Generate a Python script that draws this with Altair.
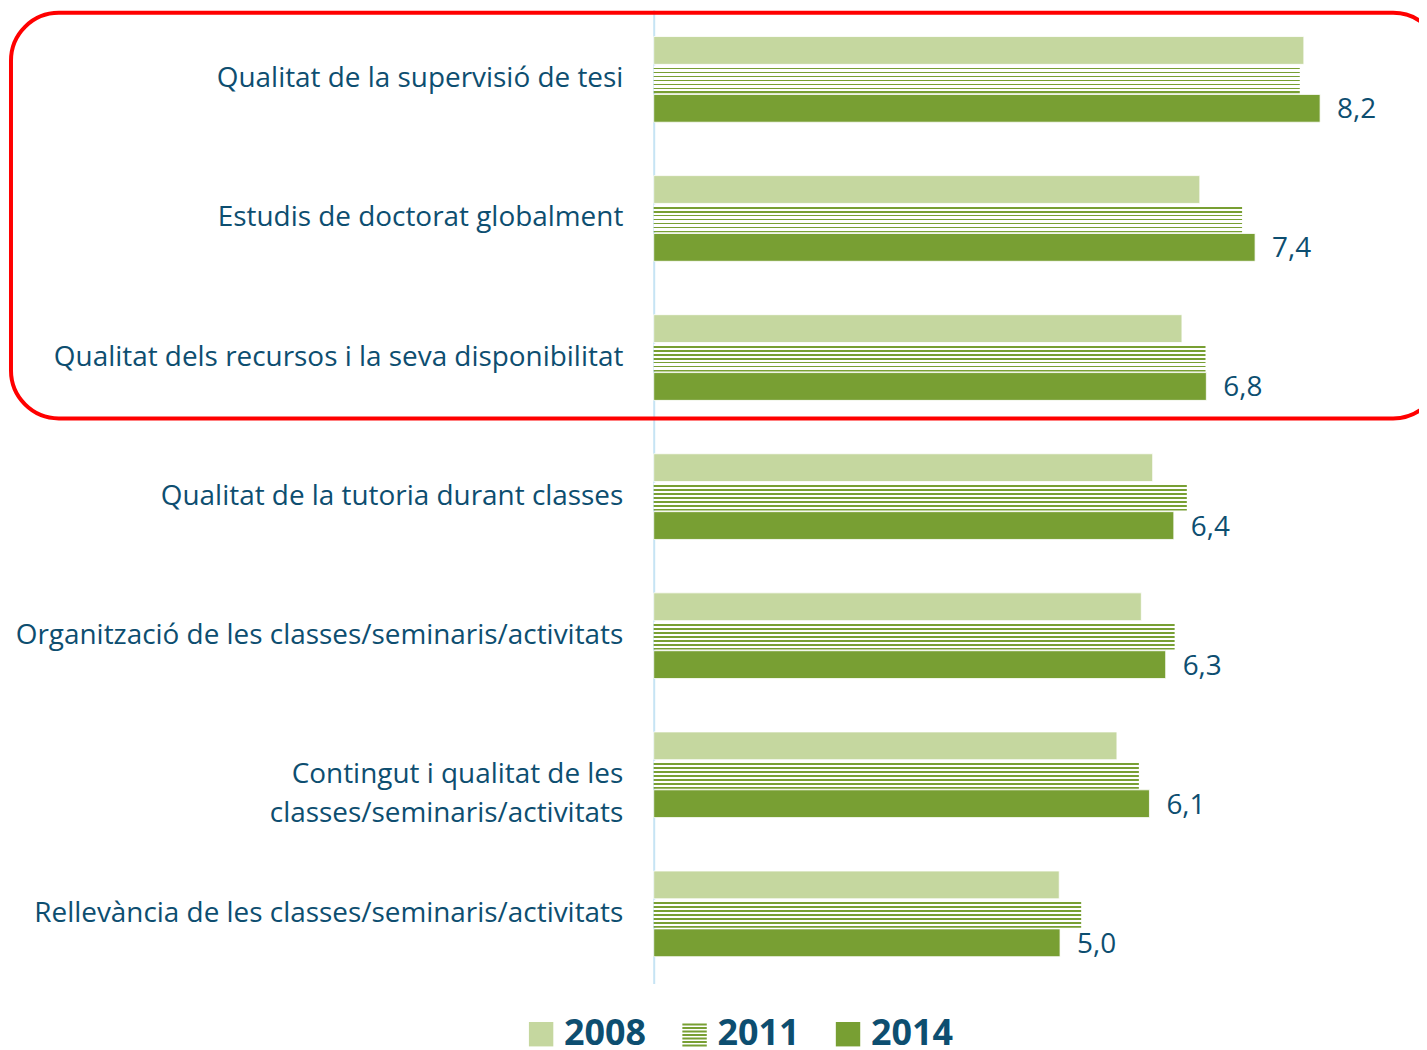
import altair as alt
import pandas as pd

categories = [
    "Qualitat de la supervisió de tesi",
    "Estudis de doctorat globalment",
    "Qualitat dels recursos i la seva disponibilitat",
    "Qualitat de la tutoria durant classes",
    "Organització de les classes/seminaris/activitats",
    "Contingut i qualitat de les\u00a0|classes/seminaris/activitats",
    "Rellevància de les classes/seminaris/activitats",
]
years = ["2008", "2011", "2014"]
v2008 = [8.0, 6.72, 6.5, 6.14, 6.0, 5.7, 4.99]
v2011 = [7.95, 7.24, 6.79, 6.56, 6.41, 5.97, 5.26]
v2014 = [8.2, 7.4, 6.8, 6.4, 6.3, 6.1, 5.0]
labels2014 = ["8,2", "7,4", "6,8", "6,4", "6,3", "6,1", "5,0"]

rows = []
for i, c in enumerate(categories):
    rows.append({"cat": c, "year": "2008", "value": v2008[i], "label": ""})
    rows.append({"cat": c, "year": "2011", "value": v2011[i], "label": ""})
    rows.append({"cat": c, "year": "2014", "value": v2014[i], "label": labels2014[i]})
df = pd.DataFrame(rows)

LIGHT = "#c5d79f"
DARK = "#789f33"
TXT = "#0d4e70"
FONT = "Open Sans"

# striped fill for 2011 bars
stops = []
n = 7
for i in range(n):
    a = i / n
    m = (i + 0.55) / n
    b = (i + 1) / n
    stops += [
        alt.GradientStop(color="#ffffff", offset=a),
        alt.GradientStop(color="#ffffff", offset=m),
        alt.GradientStop(color=DARK, offset=m),
        alt.GradientStop(color=DARK, offset=b),
    ]
stripes = alt.LinearGradient(gradient="linear", stops=stops, x1=0, x2=0, y1=0, y2=1)

# legend symbol paths
square = "M-1,-1H1V1H-1Z"
sp = []
k = 7
for i in range(k):
    y0 = -1 + 2 * (i + 0.45) / k
    y1 = -1 + 2 * (i + 1) / k
    sp.append(f"M-1,{y0:.3f}H1V{y1:.3f}H-1Z")
striped_path = "".join(sp)

W = 734
H = 977

y_enc = alt.Y(
    "cat:N",
    sort=categories,
    scale=alt.Scale(paddingInner=0.384, paddingOuter=0.192),
    axis=alt.Axis(
        title=None,
        ticks=False,
        domain=True,
        domainColor="#c6e4f4",
        domainWidth=2,
        labelFont=FONT,
        labelFontSize=28,
        labelColor=TXT,
        labelPadding=31,
        labelLimit=700,
        labelLineHeight=39,
        labelExpr="split(datum.label, '|')",
    ),
)
x_enc = alt.X("value:Q", scale=alt.Scale(domain=[0, 9]), axis=None)
yoff = alt.YOffset("year:N", scale=alt.Scale(domain=years, paddingInner=0.04))

base = alt.Chart(df)

bars08 = base.transform_filter(alt.datum.year == "2008").mark_bar(
    color=LIGHT, stroke="white", strokeWidth=0.8
).encode(y=y_enc, x=x_enc, yOffset=yoff)

bars11 = base.transform_filter(alt.datum.year == "2011").mark_bar(
    color=stripes
).encode(y=y_enc, x=x_enc, yOffset=yoff)

bars14 = base.transform_filter(alt.datum.year == "2014").mark_bar(
    color=DARK, stroke="white", strokeWidth=0.8
).encode(y=y_enc, x=x_enc, yOffset=yoff)

text14 = base.transform_filter(alt.datum.year == "2014").mark_text(
    align="left", baseline="middle", dx=17, dy=2, font=FONT, fontSize=28, color=TXT
).encode(y=y_enc, x=x_enc, yOffset=yoff, text="label:N")

legend_pts = base.mark_point(filled=True, size=0, opacity=1).encode(
    y=y_enc,
    x=x_enc,
    color=alt.Color(
        "year:N",
        scale=alt.Scale(domain=years, range=[LIGHT, DARK, DARK]),
        legend=alt.Legend(
            title=None,
            orient="none",
            direction="horizontal",
            legendX=-131,
            legendY=1010,
            symbolSize=600,
            symbolOpacity=1,
            symbolStrokeWidth=0,
            labelFont=FONT,
            labelFontSize=36,
            labelFontWeight="bold",
            labelColor=TXT,
            labelOffset=5,
            columnPadding=30,
        ),
    ),
    shape=alt.Shape(
        "year:N",
        scale=alt.Scale(domain=years, range=[square, striped_path, square]),
    ),
)

box = alt.Chart(alt.Data(values=[{"a": 1}])).mark_rect(
    fill="transparent", stroke="#ff0000", strokeWidth=4, cornerRadius=48
).encode(
    x=alt.value(-645), x2=alt.value(790), y=alt.value(3), y2=alt.value(410)
)

chart = alt.layer(bars08, bars11, bars14, text14, legend_pts, box).properties(
    width=W,
    height=H,
    autosize=alt.AutoSizeParams(type="none"),
    padding={"left": 648, "top": 0, "right": 34, "bottom": 65},
).configure(background="white").configure_view(stroke=None)

chart.save("out.html", embed_options={"renderer": "svg", "actions": False})
